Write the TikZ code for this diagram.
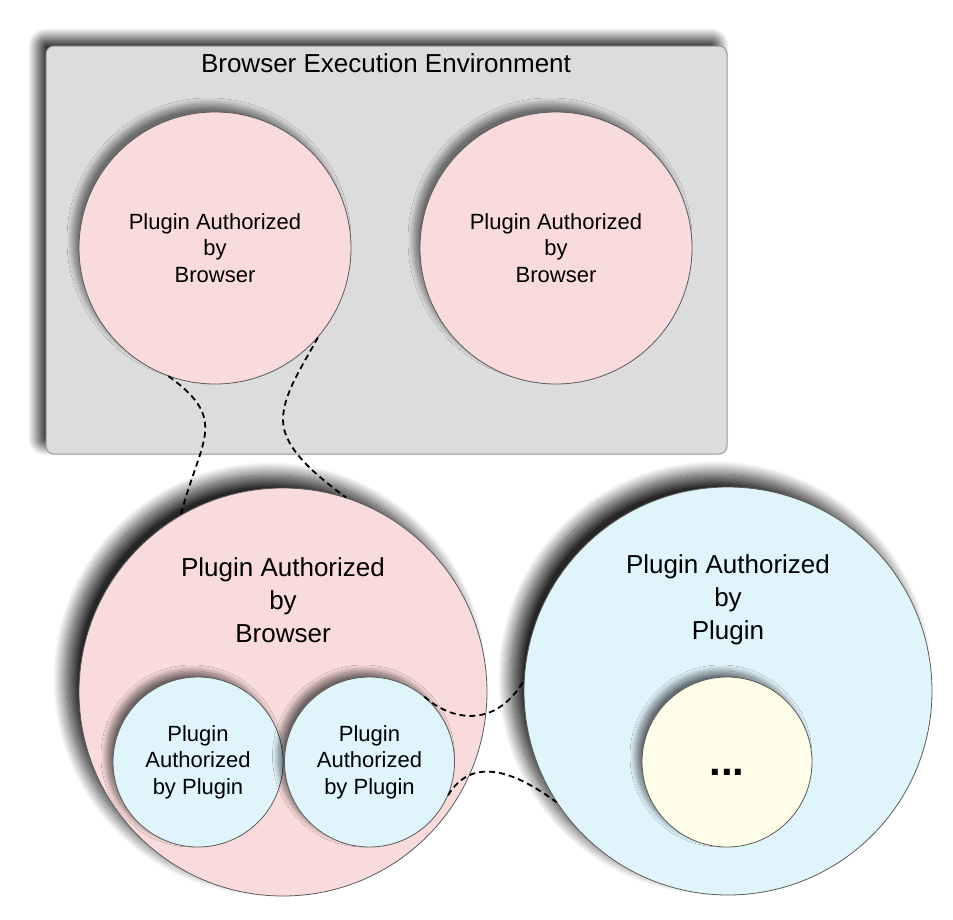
\documentclass[tikz,border=0pt]{standalone}
\usepackage{fontspec}
\setmainfont{Liberation Sans}
\usetikzlibrary{shadows.blur}
\definecolor{envgray}{HTML}{DCDCDC}
\definecolor{envline}{HTML}{9A9A9A}
\definecolor{pinkfill}{HTML}{F8DBDA}
\definecolor{bluefill}{HTML}{E0F4FB}
\definecolor{yellowfill}{HTML}{FEFDE8}
\definecolor{circline}{HTML}{5A5A5A}
\tikzset{
  bigtext/.style={font=\fontsize{26}{33}\selectfont, align=center, inner sep=0pt},
  smalltext/.style={font=\fontsize{22}{26.5}\selectfont, align=center},
  envbox/.style={rectangle, rounded corners=8pt, draw=envline, line width=1pt, fill=envgray,
    blur shadow={shadow xshift=-8pt, shadow yshift=8pt, shadow blur radius=10pt, shadow opacity=85, shadow blur steps=20}},
  bigcircle/.style={circle, draw=circline, line width=0.8pt, minimum size=408pt, inner sep=0pt,
    blur shadow={shadow xshift=-13pt, shadow yshift=13pt, shadow blur radius=13pt, shadow opacity=85, shadow blur steps=24}},
  midcircle/.style={circle, draw=circline, line width=0.8pt, minimum size=272pt, inner sep=0pt, fill=pinkfill,
    blur shadow={shadow xshift=-6pt, shadow yshift=8pt, shadow blur radius=6pt, shadow opacity=50, shadow blur steps=16}},
  smallcircle/.style={circle, draw=circline, line width=0.8pt, minimum size=170pt, inner sep=0pt,
    blur shadow={shadow xshift=-6pt, shadow yshift=6pt, shadow blur radius=6pt, shadow opacity=55, shadow blur steps=16}},
  link/.style={draw=black, line width=1.8pt, dash pattern=on 6pt off 4pt},
}
\begin{document}
\begin{tikzpicture}[x=1pt,y=-1pt]
\useasboundingbox (0,0) rectangle (953,919);
% large bottom circles
\node[bigcircle, fill=bluefill] (B) at (728,691) {};
\node[bigtext] (Btxt) at (728,600) {Plugin Authorized\\by\\Plugin};
\node[bigcircle, fill=pinkfill] (P) at (283,692) {};
\node[bigtext] (Ptxt) at (283,600) {Plugin Authorized\\by\\Browser};
% environment box
\node[envbox, minimum width=681pt, minimum height=408pt] (env) at (386.5,250) {};
\node[bigtext] (title) at (386,63) {Browser Execution Environment};
% circles in the environment
\node[midcircle, smalltext] (A) at (215,248) {Plugin Authorized\\by\\Browser};
\node[midcircle, smalltext] (C) at (556,248) {Plugin Authorized\\by\\Browser};
% inner circles
\node[smallcircle, fill=bluefill, smalltext] (S1) at (198,762) {Plugin\\Authorized\\by Plugin};
\node[smallcircle, fill=bluefill, smalltext] (S2) at (369.5,762) {Plugin\\Authorized\\by Plugin};
\node[smallcircle, fill=yellowfill] (Y) at (727,762) {};
\node[font=\fontsize{42}{42}\bfseries, inner sep=0pt] (dots) at (727,772) {...};
% dashed links
\draw[link] (A.250) .. controls (230,420) and (200,440) .. (P.120);
\draw[link] (A.319) .. controls (300,370) and (283,395) .. (283,420)
                     .. controls (283,450) and (320,478) .. (P.72);
\draw[link] (S2.50) .. controls (450,720) and (495,730) .. (B.177);
\draw[link] (S2.337) .. controls (466,765) and (500,760) .. (B.213);
\end{tikzpicture}
\end{document}
